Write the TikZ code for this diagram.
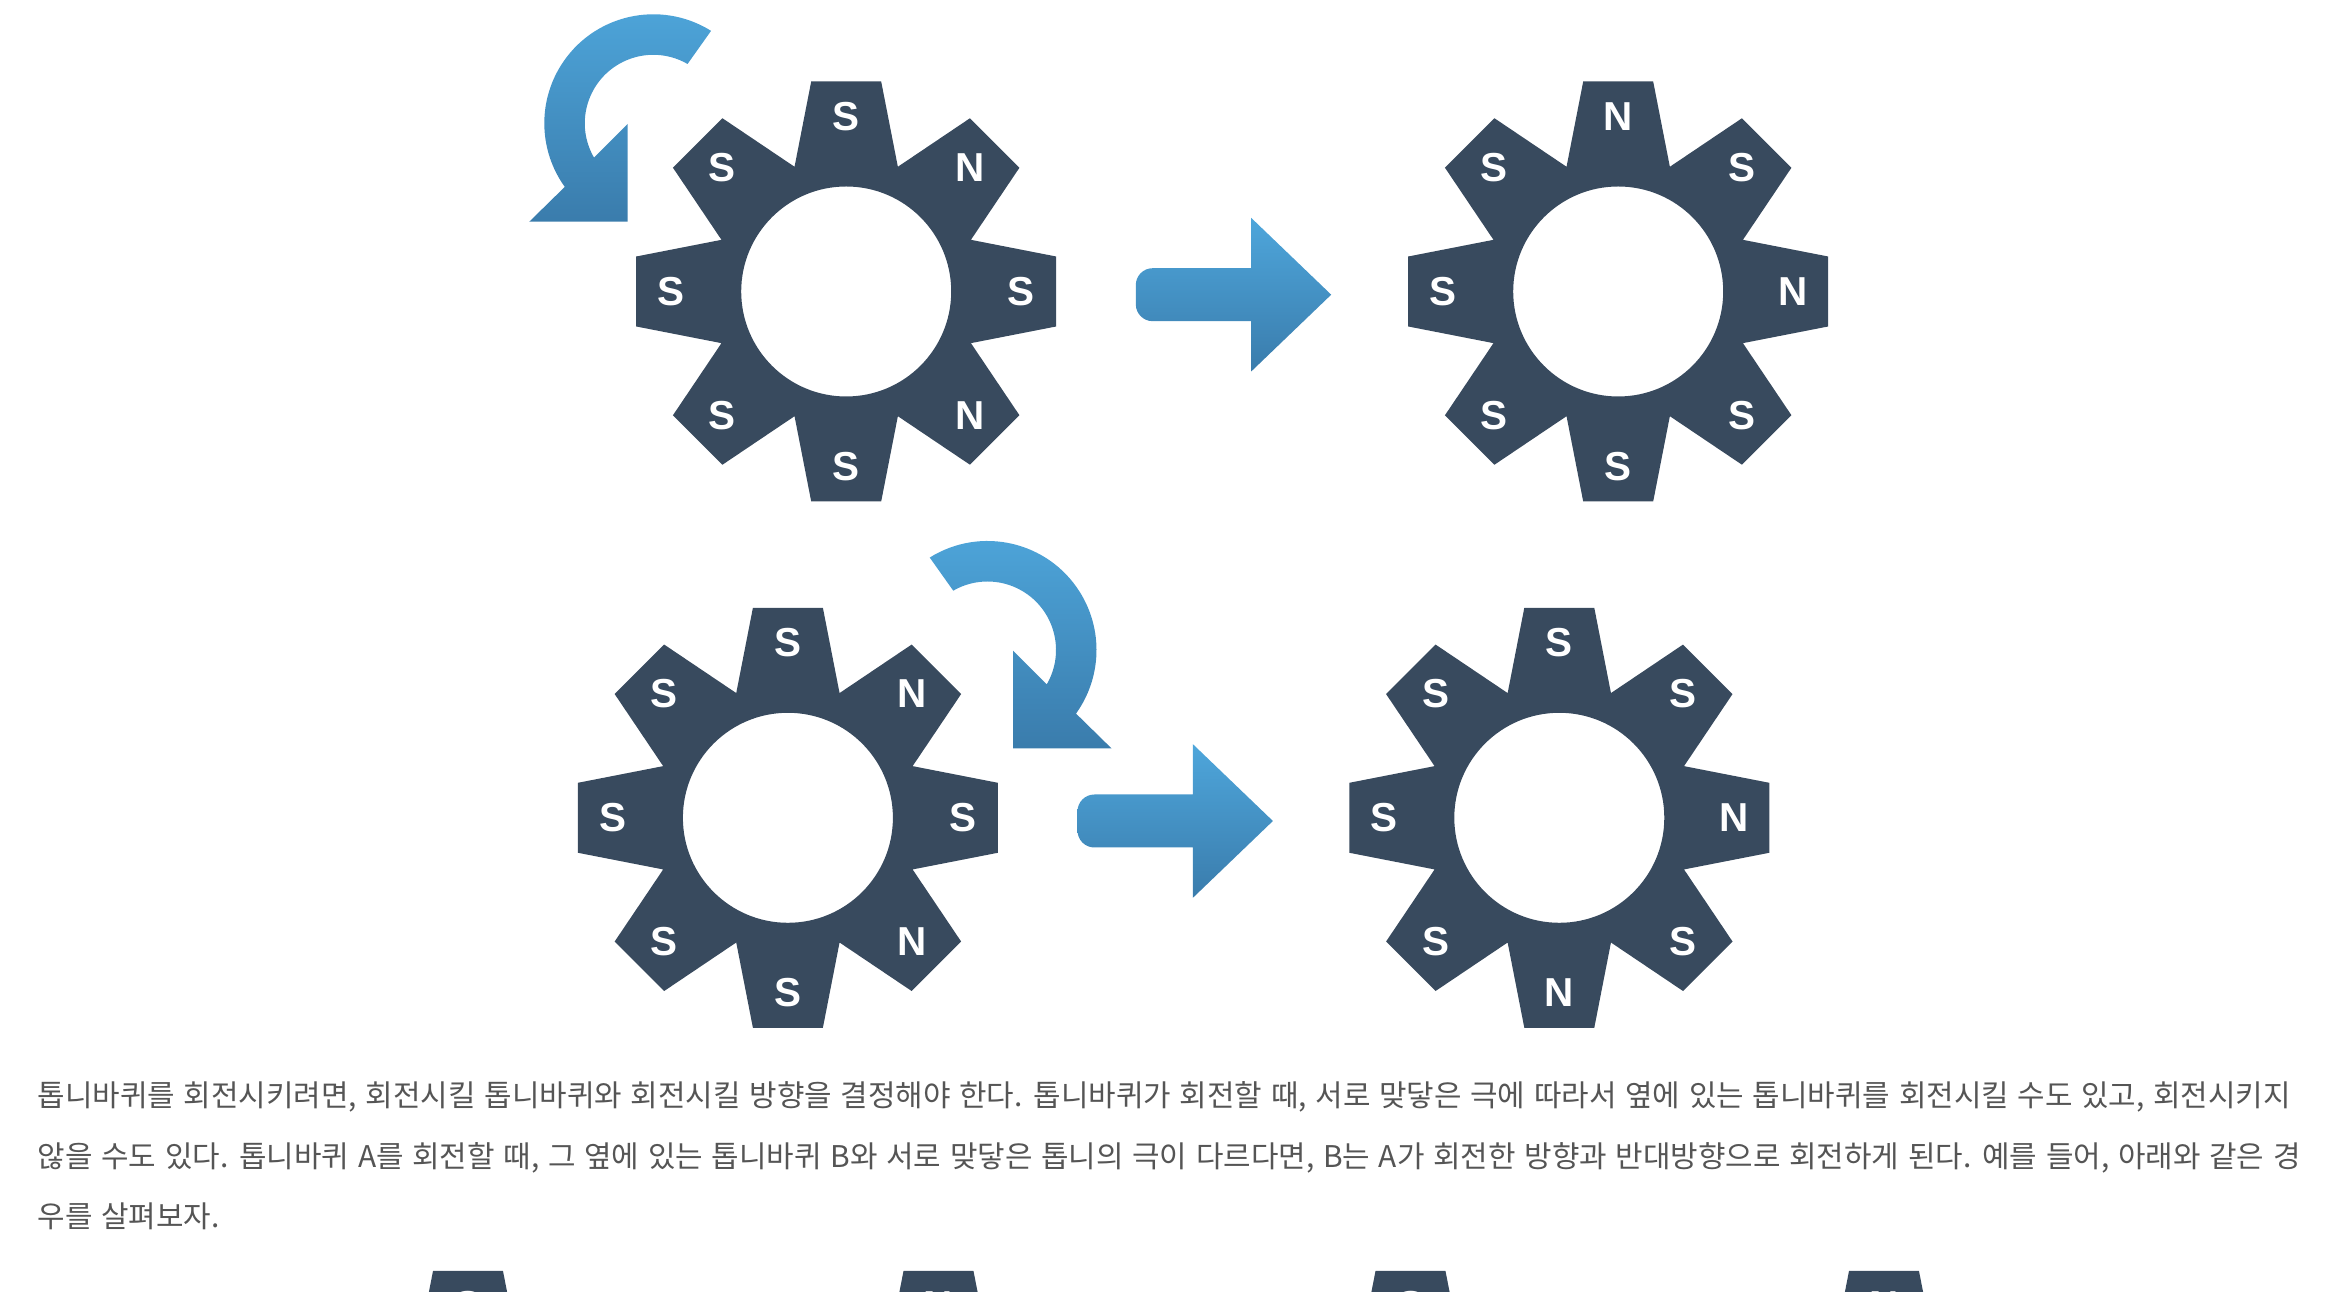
\documentclass[tikz,border=0pt]{standalone}
\usepackage{fontspec}
\usetikzlibrary{calc}
\newfontfamily\polefont{Liberation Sans}
\newfontfamily\korfont{Noto Sans CJK KR}[WordSpace=1.3]
\definecolor{gearblue}{HTML}{384A5E}
\definecolor{arrowtop}{HTML}{4EA6DB}
\definecolor{arrowbot}{HTML}{3A7CAC}
\definecolor{textgray}{HTML}{555555}

\begin{document}
\begin{tikzpicture}[x=0.01cm, y=0.01cm,
    gearbody/.style={fill=gearblue, even odd rule},
    pole/.style={text=white, inner sep=0pt,
      font=\polefont\bfseries\fontsize{11.5}{12}\selectfont},
    arrowshade/.style={top color=arrowtop, bottom color=arrowbot},
    txt/.style={text=textgray, inner sep=0pt, anchor=base west,
      font=\korfont\fontsize{8.5}{10}\selectfont}]
  \def\rt{212.9}\def\at{9.46}\def\rn{135}\def\rh{105}\def\rl{175}
  % gear: centre, poles from the top going clockwise
  \def\gear#1#2{%
    \begin{scope}[shift={(#1)}]
      \fill[gearbody] (-22.5:\rn) \foreach \a in {0,45,...,315} {
        -- ({\a-\at}:\rt) -- ({\a+\at}:\rt) -- ({\a+22.5}:\rn)} -- cycle
        (0,0) circle (\rh);
      \foreach \p [count=\i] in {#2}
        \node[pole] (#1-\i) at ({135-45*\i}:\rl) {\p};
    \end{scope}}
  % turning arrow: centre, 1 = anticlockwise, -1 = clockwise
  \def\turn#1#2{%
    \begin{scope}[shift={(#1)}, xscale=#2]
      \shade[arrowshade] (58:109) arc[start angle=58, end angle=215.7, radius=109]
        -- (-124,-98.4) -- (-25.6,-98.4) -- (-25.6,-0.7) -- (210.1:68.5)
        arc[start angle=210.1, end angle=60, radius=68.5] -- cycle;
    \end{scope}}
  % straight arrow to the right of a gear
  \def\pointer#1{%
    \begin{scope}[shift={(#1)}]
      \shade[arrowshade] (347,23.3) -- (405,23.3) -- (405,73.6) -- (485,-3.2)
        -- (405,-80) -- (405,-29.7) -- (347,-29.7) [rounded corners=4.8pt]
        -- (289.6,-29.7) -- (289.6,23.3) -- cycle;
    \end{scope}}

  \useasboundingbox (0,0) rectangle (2344,-1292);
  \coordinate (G1) at (846.2,-291.5);
  \coordinate (G2) at (1618.2,-291.5);
  \coordinate (G3) at (787.9,-817.8);
  \coordinate (G4) at (1559.3,-817.8);
  \coordinate (C1) at (653.3,-123.3);
  \coordinate (C2) at (987.5,-650);

  % first row
  \turn{C1}{1}
  \gear{G1}{S,N,S,N,S,S,S,S}
  \pointer{G1}
  \gear{G2}{N,S,N,S,S,S,S,S}
  % second row
  \turn{C2}{-1}
  \gear{G3}{S,N,S,N,S,S,S,S}
  \pointer{G3}
  \gear{G4}{S,S,N,S,N,S,S,S}

  \node[txt] (line1) at (37,-1107) {톱니바퀴를 회전시키려면, 회전시킬 톱니바퀴와 회전시킬 방향을 결정해야 한다. 톱니바퀴가 회전할 때, 서로 맞닿은 극에 따라서 옆에 있는 톱니바퀴를 회전시킬 수도 있고, 회전시키지};
  \node[txt] (line2) at (37,-1168) {않을 수도 있다. 톱니바퀴 A를 회전할 때, 그 옆에 있는 톱니바퀴 B와 서로 맞닿은 톱니의 극이 다르다면, B는 A가 회전한 방향과 반대방향으로 회전하게 된다. 예를 들어, 아래와 같은 경};
  \node[txt] (line3) at (37,-1228) {우를 살펴보자.};

  % next figure, cut off at the bottom
  \begin{scope}
    \clip (0,0) rectangle (2344,-1292);
    \coordinate (B1) at (468,-1481);
    \coordinate (B2) at (938.5,-1481);
    \coordinate (B3) at (1410.5,-1481);
    \coordinate (B4) at (1884,-1481);
    \gear{B1}{S}
    \gear{B2}{N}
    \gear{B3}{S}
    \gear{B4}{N}
  \end{scope}
\end{tikzpicture}
\end{document}
